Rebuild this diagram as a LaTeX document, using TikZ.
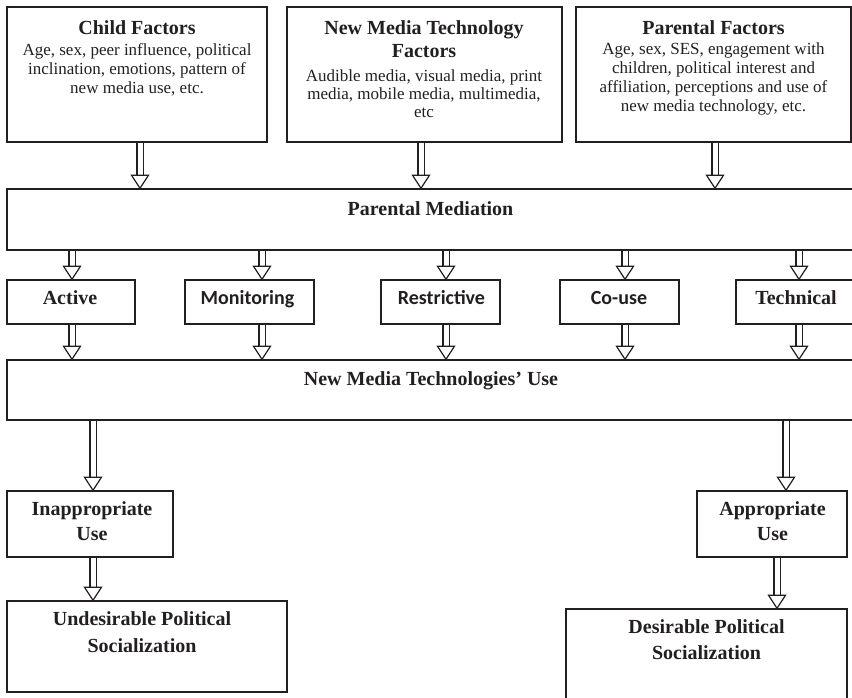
\documentclass[tikz,border=0pt]{standalone}
\usepackage{fontspec}
\setmainfont{Liberation Serif}
\newfontfamily\calibrifont{Carlito}
\usepackage{tikz}
\usetikzlibrary{calc}
\definecolor{ink}{RGB}{35,31,32}

\tikzset{
  box/.style={draw=ink, line width=1.5pt, inner sep=0pt},
  headtext/.style={font=\bfseries\fontsize{20}{23}\selectfont, text=ink, anchor=base, align=center, inner sep=0pt},
  sanstext/.style={headtext, font=\calibrifont\bfseries\fontsize{20}{23}\selectfont},
  bodytext/.style={font=\fontsize{17}{19.3}\selectfont, text=ink, anchor=base, align=center, inner sep=0pt},
  shaft/.style={draw=ink, line width=1.2pt, double=white, double distance=5pt},
  arrowtip/.style={draw=ink, fill=white, line width=1.2pt, line join=miter},
}
% hollow double arrow: [x offset]{from}{to}{column node}
\newcommand\dblarrow[4][0]{%
  \draw[shaft, shorten >=12pt] ($(#4 |- #2.south)+(#1,0)$) -- ($(#4 |- #3.north)+(#1,0)$);
  \draw[arrowtip] ($(#4 |- #3.north)+(#1,0)$) -- ++(-8.5,-13) -- ++(17,0) -- cycle;}

\begin{document}
\begin{tikzpicture}[x=1pt, y=-1pt]
    \useasboundingbox (0,0) rectangle (852,698);
    \clip (0,0) rectangle (852,698);
    % Factors (multi-line texts sit on the baseline of their last line)
    \node[box, minimum width=260, minimum height=135] (child) at (137,74.5) {};
    \node[box, minimum width=275, minimum height=135] (nmt) at (424.5,74.5) {};
    \node[box, minimum width=275, minimum height=135] (parf) at (713.5,74.5) {};
    \node[headtext] (childhead) at (137,35) {Child Factors};
    \node[bodytext] (childbody) at (137,94) {Age, sex, peer influence, political\\inclination, emotions, pattern of\\new media use, etc.};
    \node[headtext] (nmthead) at (424,58) {New Media Technology\\Factors};
    \node[bodytext, font=\fontsize{17}{18}\selectfont] (nmtbody) at (424,118) {Audible media, visual media, print\\media, mobile media, multimedia,\\etc};
    \node[headtext] (parfhead) at (713.5,35) {Parental Factors};
    \node[bodytext] (parfbody) at (713.5,112) {Age, sex, SES, engagement with\\children, political interest and\\affiliation, perceptions and use of\\new media technology, etc.};
    % Parental mediation
    \node[box, minimum width=860, minimum height=61] (pm) at (437,219.5) {};
    \node[headtext] (pmtext) at (430.5,215) {Parental Mediation};
    % Styles of mediation
    \node[box, minimum width=128, minimum height=44] (act) at (71,302) {};
    \node[box, minimum width=129, minimum height=44] (mon) at (249.5,302) {};
    \node[box, minimum width=119, minimum height=44] (res) at (440.5,302) {};
    \node[box, minimum width=119, minimum height=44] (cou) at (619.5,302) {};
    \node[box, minimum width=120, minimum height=44] (tec) at (796,302) {};
    \node[headtext] (acttext) at (70,304) {Active};
    \node[sanstext] (montext) at (247.5,304) {Monitoring};
    \node[sanstext] (restext) at (441.5,304) {Restrictive};
    \node[sanstext] (coutext) at (619,304) {Co-use};
    \node[headtext] (tectext) at (796,304) {Technical};
    % Use of new media
    \node[box, minimum width=860, minimum height=60] (nmtu) at (437,390) {};
    \node[headtext] (nmtutext) at (431,385) {New Media Technologies' Use};
    \node[box, minimum width=166, minimum height=66] (inapp) at (90,524) {};
    \node[box, minimum width=150, minimum height=66] (app) at (772,524) {};
    \node[headtext, font=\bfseries\fontsize{20}{25}\selectfont] (inapptext) at (92,540) {Inappropriate\\Use};
    \node[headtext, font=\bfseries\fontsize{20}{25}\selectfont] (apptext) at (772.5,540) {Appropriate\\Use};
    % Outcomes
    \node[box, minimum width=280, minimum height=91] (undes) at (147,646.5) {};
    \node[box, minimum width=281, minimum height=101] (des) at (706.5,659.5) {};
    \node[headtext, font=\bfseries\fontsize{20}{27}\selectfont] (undestext) at (142,652) {Undesirable Political\\Socialization};
    \node[headtext, font=\bfseries\fontsize{20}{26}\selectfont] (destext) at (706.5,659) {Desirable Political\\Socialization};
    % Arrows
    \dblarrow[3]{child}{pm}{child}
    \dblarrow[-3.5]{nmt}{pm}{nmt}
    \dblarrow[1.5]{parf}{pm}{parf}
    \dblarrow[1]{pm}{act}{act}
    \dblarrow[12.5]{pm}{mon}{mon}
    \dblarrow[5.5]{pm}{res}{res}
    \dblarrow[5.5]{pm}{cou}{cou}
    \dblarrow[3]{pm}{tec}{tec}
    \dblarrow[1]{act}{nmtu}{act}
    \dblarrow[12.5]{mon}{nmtu}{mon}
    \dblarrow[5.5]{res}{nmtu}{res}
    \dblarrow[5.5]{cou}{nmtu}{cou}
    \dblarrow[3]{tec}{nmtu}{tec}
    \dblarrow[3]{nmtu}{inapp}{inapp}
    \dblarrow[3]{inapp}{undes}{inapp}
    \dblarrow[14]{nmtu}{app}{app}
    \dblarrow[5]{app}{des}{app}
\end{tikzpicture}
\end{document}
